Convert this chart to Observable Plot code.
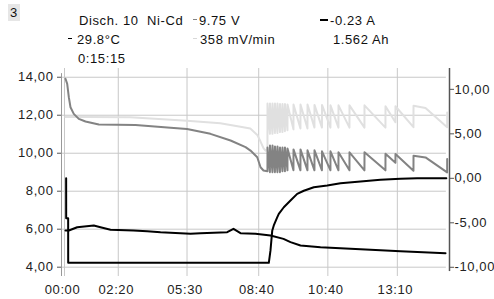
<!DOCTYPE html>
<html>
<head>
<meta charset="utf-8">
<script src="https://cdn.jsdelivr.net/npm/d3@7"></script>
<script src="https://cdn.jsdelivr.net/npm/@observablehq/plot@0.6"></script>
<style>
  html, body { margin: 0; padding: 0; background: #fff; overflow: hidden; }
  #wrap { position: relative; width: 494px; height: 299px; font-family: "Liberation Sans", Arial, sans-serif; font-size: 13px; letter-spacing: 0.6px; color: #111; }
  #wrap svg { position: absolute; left: 0; top: 0; }
  #wrap svg text { letter-spacing: 0.6px; }
  .h { position: absolute; white-space: pre; line-height: 1; }
  .d { position: absolute; }
</style>
</head>
<body>
<div id="wrap"></div>
<script>
// ---- tick labels ----
const xTicks = [0, 147, 335, 531, 720, 910];
const xTickLabels = ["00:00", "02:20", "05:30", "08:40", "10:40", "13:10"];
const leftTicks = [4, 6, 8, 10, 12, 14];
const leftTickLabels = ["4,00", "6,00", "8,00", "10,00", "12,00", "14,00"];
const rightTicks = [-10, -5, 0, 5, 10];
const rightTickLabels = ["-10,00", "-5,00", "0,00", "5,00", "10,00"];

// ---- series (time in minutes, value) ----
// voltage, left axis (V)
const voltage = [
  [2.7, 13.92], [7.4, 13.65], [11.8, 12.95], [16.4, 12.42], [25.4, 12.07], [39.1, 11.81],
  [57.4, 11.67], [93.8, 11.51], [194, 11.48], [290, 11.34], [335, 11.28], [399, 11.02],
  [454, 10.67], [495, 10.32], [508.5, 10.14], [527, 9.79], [536, 9.26], [544, 9.09],
  [554.9, 9.05], [555.0, 10.3], [561.7, 9.0], [561.8, 10.4], [568.6, 9.0], [568.7, 10.4],
  [575.4, 9.0], [575.5, 10.35], [582.2, 9.0], [582.3, 10.35], [589.1, 9.0], [589.2, 10.3],
  [595.9, 9.05], [596.0, 10.3], [602.7, 9.05], [602.8, 10.3], [609.6, 9.1], [609.7, 10.25],
  [626.0, 9.1], [626.1, 10.2], [645.1, 9.1], [645.2, 10.2], [664.3, 9.1], [664.4, 10.15],
  [683.4, 9.1], [683.5, 10.15], [703.9, 9.1], [704.0, 10.1], [727.1, 9.1], [727.2, 10.1],
  [749.0, 9.1], [749.1, 10.05], [779.1, 9.1], [779.2, 10.05], [820.1, 9.1], [820.2, 10.05],
  [877.5, 9.1], [877.6, 9.97], [904.8, 9.5], [904.9, 9.96], [954.1, 9.08], [954.2, 9.87],
  [987, 9.78], [1046.2, 8.99], [1046.3, 9.7]
];
// slope, right axis
const slope = [
  [2.7, 6.9], [60, 6.88], [180, 6.85], [335, 6.48], [426, 6.18], [481, 5.8], [508, 5.6],
  [527, 4.88], [536, 4.13], [544, 3.39], [549.5, 3.1],
  [554.9, 3.2], [555.0, 8.4], [561.7, 5.0], [561.8, 8.4], [568.6, 5.0], [568.7, 8.4],
  [575.4, 5.1], [575.5, 8.4], [582.2, 5.1], [582.3, 8.4], [589.1, 5.2], [589.2, 8.35],
  [595.9, 5.2], [596.0, 8.35], [602.7, 5.3], [602.8, 8.35], [609.6, 5.4], [609.7, 8.3],
  [626.0, 5.5], [626.1, 8.3], [645.1, 5.6], [645.2, 8.3], [664.3, 5.6], [664.4, 8.3],
  [683.4, 5.7], [683.5, 8.25], [703.9, 5.7], [704.0, 8.25], [727.1, 5.7], [727.2, 8.2],
  [749.0, 5.7], [749.1, 8.2], [779.1, 5.7], [779.2, 8.2], [820.1, 5.7], [820.2, 8.2],
  [877.5, 5.7], [877.6, 8.1], [904.8, 6.3], [904.9, 8.1], [954.1, 5.75], [954.2, 8.15],
  [987, 7.9], [1046.2, 5.74], [1046.3, 7.4]
];
// current, right axis
const current = [
  [4.5, 0.0], [4.6, -4.5], [10.0, -4.5], [10.1, -9.5], [558.6, -9.5], [563.2, -8.1],
  [567.9, -5.9], [572.2, -5.3], [581.5, -4.4], [585.9, -4.0], [599.6, -3.25], [617.9, -2.5],
  [636.2, -1.75], [654.3, -1.4], [681.6, -1.0], [718.2, -0.8], [754.6, -0.55], [809.3, -0.36],
  [863.9, -0.17], [918.6, -0.06], [964.3, 0.0], [1044, 0.0]
];
// temperature trace, left axis
const temperature = [
  [2.7, 5.93], [11.8, 5.93], [34.7, 6.1], [80.1, 6.19], [98.4, 6.1], [125.8, 5.97],
  [188.6, 5.93], [226, 5.89], [262.5, 5.84], [317, 5.79], [344.5, 5.76], [371.8, 5.79],
  [444.8, 5.84], [462, 6.02], [481.2, 5.79], [522.2, 5.76], [563.2, 5.67], [598.7, 5.49],
  [617.9, 5.32], [645.2, 5.14], [699.9, 5.05], [781.9, 4.97], [918.6, 4.84], [1041.7, 4.74]
];

// ---- layout constants ----
const xDomain = [-8.2, 1052.6];
const yDomain = [3.51, 14.46];
// right axis values expressed in left-axis units
const rightToLeft = d3.scaleLinear().domain([-10, 10]).range([3.995, 13.363]);

const toLeft = (arr) => arr.map(([t, v]) => ({t, v: rightToLeft(v)}));
const asObj = (arr) => arr.map(([t, v]) => ({t, v}));

const rightPos = rightTicks.map(rightToLeft);

const chart = Plot.plot({
  width: 494,
  height: 299,
  marginLeft: 61,
  marginRight: 45,
  marginTop: 68,
  marginBottom: 23,
  x: {domain: xDomain, label: null},
  y: {domain: yDomain, label: null},
  style: {fontFamily: "'Liberation Sans', Arial, sans-serif", fontSize: "13px", background: "transparent", overflow: "visible"},
  marks: [
    Plot.ruleY(leftTicks, {x1: xDomain[0], x2: 1044, stroke: "#c8c8c8"}),
    Plot.ruleX(xTicks, {stroke: "#c8c8c8"}),
    Plot.ruleX([xDomain[0]], {y1: 14.19, y2: yDomain[0], stroke: "#999"}),
    Plot.ruleX([xDomain[1]], {y1: yDomain[1], y2: 3.77, stroke: "#555", strokeWidth: 1.5}),
    Plot.line(toLeft(slope), {x: "t", y: "v", stroke: "#e0e0e0", strokeWidth: 2}),
    Plot.line(asObj(voltage), {x: "t", y: "v", stroke: "#838383", strokeWidth: 2}),
    Plot.line(asObj(temperature), {x: "t", y: "v", stroke: "#000", strokeWidth: 2}),
    Plot.line(toLeft(current), {x: "t", y: "v", stroke: "#000", strokeWidth: 2}),
    Plot.axisY(leftTicks, {anchor: "left", label: null, tickSize: 4, tickPadding: 4, stroke: "#555", fill: "#222",
      tickFormat: (d) => leftTickLabels[leftTicks.indexOf(d)]}),
    Plot.axisY(rightPos, {anchor: "right", label: null, tickSize: 4, tickPadding: 1, stroke: "#555", fill: "#222",
      tickFormat: (d) => rightTickLabels[rightPos.indexOf(d)]}),
    Plot.axisX(xTicks, {anchor: "bottom", label: null, tickSize: 0, tickPadding: 8, dx: -2, fill: "#222",
      tickFormat: (d) => xTickLabels[xTicks.indexOf(d)]})
  ]
});

const wrap = document.getElementById("wrap");
wrap.appendChild(chart);

// ---- header ----
const header = [
  {text: "3", x: 10, y: 6, bg: "#e6e6e6"},
  {text: "Disch. 10  Ni-Cd", x: 79, y: 14},
  {text: "9.75 V", x: 199, y: 14},
  {text: "-0.23 A", x: 330, y: 14},
  {text: "29.8°C", x: 77, y: 33},
  {text: "358 mV/min", x: 200, y: 33},
  {text: "1.562 Ah", x: 333, y: 33},
  {text: "0:15:15", x: 78, y: 52}
];
const dashes = [
  {x: 193, y: 19, w: 4, h: 1, c: "#838383"},
  {x: 320, y: 19, w: 8, h: 2, c: "#000"},
  {x: 68, y: 38, w: 4, h: 1, c: "#000"},
  {x: 193, y: 38, w: 4, h: 1, c: "#d8d8d8"}
];
for (const h of header) {
  const s = document.createElement("span");
  s.className = "h";
  s.textContent = h.text;
  s.style.left = h.x + "px";
  s.style.top = h.y + "px";
  if (h.bg) { s.style.background = h.bg; s.style.padding = "2px 2px"; s.style.left = (h.x - 2) + "px"; s.style.top = (h.y - 2) + "px"; }
  wrap.appendChild(s);
}
for (const d of dashes) {
  const s = document.createElement("div");
  s.className = "d";
  s.style.left = d.x + "px"; s.style.top = d.y + "px";
  s.style.width = d.w + "px"; s.style.height = d.h + "px";
  s.style.background = d.c;
  wrap.appendChild(s);
}
</script>
</body>
</html>
